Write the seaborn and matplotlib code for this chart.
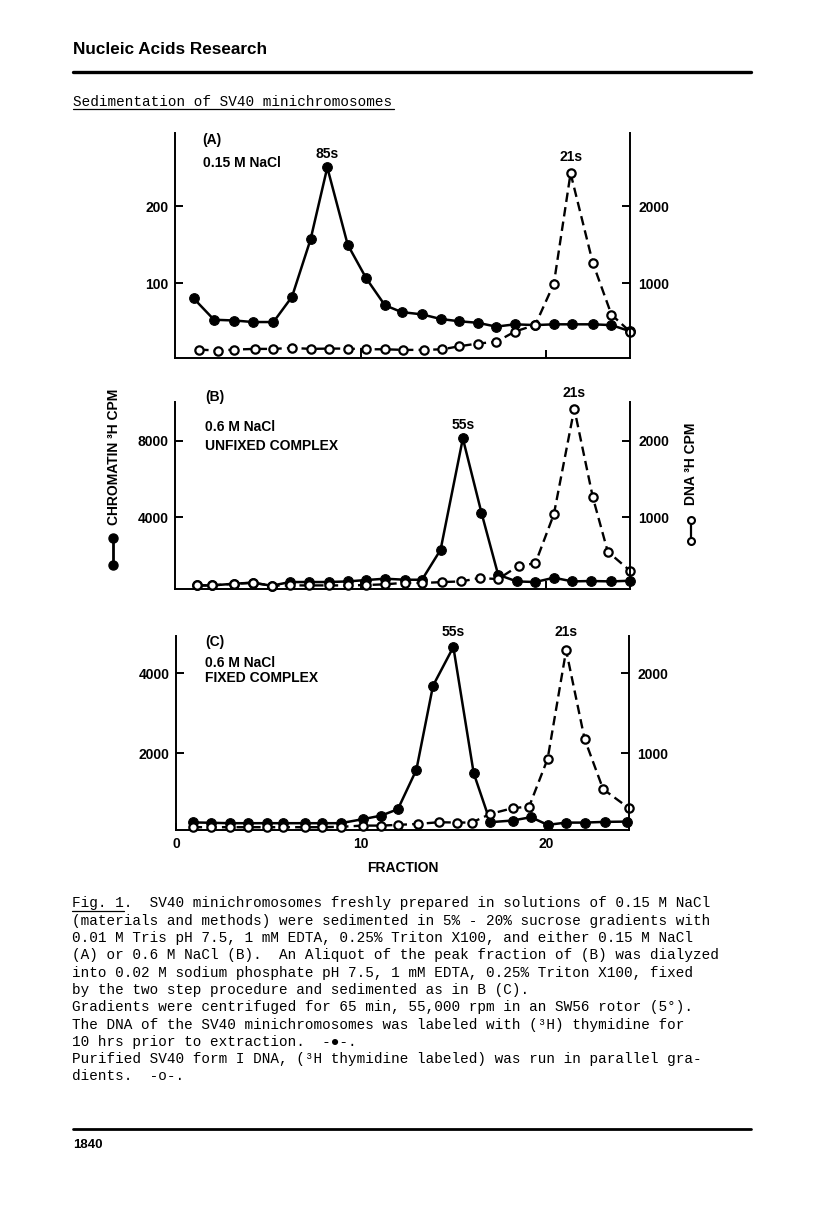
import matplotlib
matplotlib.use('Agg')
import matplotlib.pyplot as plt
from matplotlib.lines import Line2D
import numpy as np
import seaborn as sns

# ---- data (fraction number vs CPM) ----
# panel A: 0.15 M NaCl
a_frac_chrom = [1.0, 2.1, 3.2, 4.2, 5.3, 6.3, 7.3, 8.2, 9.3, 10.3, 11.3, 12.2,
                13.3, 14.3, 15.3, 16.3, 17.3, 18.3, 19.4, 20.4, 21.4, 22.5, 23.5, 24.5]
a_chrom = [80, 52, 51, 49, 49, 82, 157, 251, 150, 106, 71, 62,
           59, 53, 50, 48, 43, 46, 45, 46, 46, 46, 45, 37]
a_frac_dna = [1.3, 2.3, 3.2, 4.3, 5.3, 6.3, 7.3, 8.3, 9.3, 10.3, 11.3, 12.3,
              13.4, 14.4, 15.3, 16.3, 17.3, 18.3, 19.4, 20.4, 21.3, 22.5, 23.5, 24.5]
a_dna = [130, 117, 130, 139, 139, 152, 139, 143, 143, 134, 134, 126,
         126, 134, 173, 209, 231, 365, 452, 991, 2434, 1261, 587, 365]

# panel B: 0.6 M NaCl, unfixed
b_frac_chrom = [1.2, 2.0, 3.2, 4.2, 5.2, 6.2, 7.2, 8.3, 9.3, 10.3, 11.3, 12.4,
                13.3, 14.3, 15.5, 16.5, 17.4, 18.4, 19.4, 20.4, 21.4, 22.4, 23.5, 24.5]
b_chrom = [433, 433, 522, 574, 417, 610, 610, 610, 642, 715, 783, 730,
           730, 2295, 8123, 4241, 991, 642, 610, 835, 642, 663, 642, 678]
b_frac_dna = [1.2, 2.0, 3.2, 4.2, 5.2, 6.2, 7.2, 8.3, 9.3, 10.3, 11.3, 12.4,
              13.3, 14.4, 15.4, 16.4, 17.4, 18.5, 19.4, 20.4, 21.5, 22.5, 23.3, 24.5]
b_dna = [108, 108, 130, 143, 104, 108, 108, 108, 108, 113, 122, 143,
         139, 152, 160, 204, 191, 365, 396, 1039, 2420, 1260, 551, 300]

# panel C: 0.6 M NaCl, fixed
c_frac_chrom = [0.9, 1.9, 2.9, 3.9, 4.9, 5.8, 7.0, 7.9, 8.9, 10.1, 11.1, 12.0,
                13.0, 13.9, 15.0, 16.1, 17.0, 18.2, 19.2, 20.1, 21.1, 22.1, 23.2, 24.4]
c_chrom = [270, 260, 250, 250, 250, 250, 250, 250, 250, 350, 440, 600,
           1583, 3683, 4650, 1500, 275, 317, 400, 208, 265, 265, 283, 290]
c_frac_dna = [0.9, 1.9, 2.9, 3.9, 4.9, 5.8, 7.0, 7.9, 8.9, 10.1, 11.1, 12.0,
              13.1, 14.2, 15.2, 16.0, 17.0, 18.2, 19.1, 20.1, 21.1, 22.1, 23.1, 24.5]
c_dna = [75, 75, 75, 75, 75, 75, 75, 75, 80, 95, 95, 104,
         116, 137, 133, 133, 241, 312, 333, 929, 2283, 1175, 550, 312]

caption = [
    "Fig. 1.  SV40 minichromosomes freshly prepared in solutions of 0.15 M NaCl",
    "(materials and methods) were sedimented in 5% - 20% sucrose gradients with",
    "0.01 M Tris pH 7.5, 1 mM EDTA, 0.25% Triton X100, and either 0.15 M NaCl",
    "(A) or 0.6 M NaCl (B).  An Aliquot of the peak fraction of (B) was dialyzed",
    "into 0.02 M sodium phosphate pH 7.5, 1 mM EDTA, 0.25% Triton X100, fixed",
    "by the two step procedure and sedimented as in B (C).",
    "Gradients were centrifuged for 65 min, 55,000 rpm in an SW56 rotor (5°).",
    "The DNA of the SV40 minichromosomes was labeled with (³H) thymidine for",
    "10 hrs prior to extraction.  -●-.",
    "Purified SV40 form I DNA, (³H thymidine labeled) was run in parallel gra-",
    "dients.  -o-.",
]

sns.set_style("white")
plt.rcParams['font.family'] = ['Liberation Sans', 'DejaVu Sans']
plt.rcParams['font.weight'] = 'bold'
plt.rcParams['font.size'] = 10
plt.rcParams['text.color'] = 'black'
plt.rcParams['xtick.color'] = 'black'
plt.rcParams['ytick.color'] = 'black'
plt.rcParams['axes.edgecolor'] = 'black'
plt.rcParams['axes.linewidth'] = 1.4

W, H = 816, 1215
fig = plt.figure(figsize=(W / 100, H / 100), dpi=100)
fig.patch.set_facecolor('white')
MONO = ['Liberation Mono', 'DejaVu Sans Mono']


def fx(px):
    return px / W


def fy(py):
    return 1 - py / H


def panel(left, top, right, bottom, fr_c, chrom, fr_d, dna, ylim_l, ylim_r,
          lticks, rticks, labels, peak_c, peak_d, xlabels=False):
    ax = fig.add_axes([fx(left), fy(bottom), (right - left) / W, (bottom - top) / H])
    sns.lineplot(x=fr_c, y=chrom, ax=ax, color='black', linewidth=1.8,
                 marker='o', markersize=7, markerfacecolor='black',
                 markeredgecolor='black', clip_on=False)
    ax2 = ax.twinx()
    sns.lineplot(x=fr_d, y=dna, ax=ax2, color='black', linewidth=1.7,
                 linestyle=(0, (4.0, 2.2)), marker='o', markersize=6,
                 markerfacecolor='white', markeredgecolor='black',
                 markeredgewidth=1.6, clip_on=False)
    for a in (ax, ax2):
        a.set_xlim(0, 24.5)
        a.spines['top'].set_visible(False)
        a.set_xlabel('')
        a.set_ylabel('')
    ax.spines['right'].set_visible(False)
    ax2.spines['left'].set_visible(False)
    ax2.spines['bottom'].set_visible(False)
    ax.set_ylim(*ylim_l)
    ax2.set_ylim(*ylim_r)
    ax.set_yticks(lticks)
    ax2.set_yticks(rticks)
    ax.tick_params(axis='y', left=True, direction='in', length=6, width=1.4,
                   pad=4.5, labelsize=10)
    ax2.tick_params(axis='y', right=True, direction='in', length=6, width=1.4,
                    pad=6, labelsize=10)
    if xlabels:
        ax.set_xticks([0, 10, 20])
        ax.tick_params(axis='x', bottom=True, direction='in', length=5,
                       width=1.4, pad=5, labelsize=10)
    else:
        ax.set_xticks([10, 20])
        ax.set_xticklabels([])
        ax.tick_params(axis='x', bottom=True, direction='in', length=6, width=1.4)
    for (x, y, s) in labels:
        ax.text(x, y, s, transform=ax.transAxes, ha='left', va='center', fontsize=10)
    # peak labels placed from the data maxima
    s, off = peak_c
    i = int(np.argmax(chrom))
    ax.annotate(s, xy=(fr_c[i], chrom[i]), xytext=(0, off), textcoords='offset points',
                ha='center', va='center', fontsize=10, annotation_clip=False)
    s, off = peak_d
    i = int(np.argmax(dna))
    ax2.annotate(s, xy=(fr_d[i], dna[i]), xytext=(0, off), textcoords='offset points',
                 ha='center', va='center', fontsize=10, annotation_clip=False)
    return ax


panel(175, 133, 630, 358, a_frac_chrom, a_chrom, a_frac_dna, a_dna,
      (2, 296), (20, 2960), [100, 200], [1000, 2000],
      [(0.059, 0.969, '(A)'), (0.062, 0.868, '0.15 M NaCl')],
      ('85s', 10), ('21s', 11.5))
panel(175, 402, 630, 589, b_frac_chrom, b_chrom, b_frac_dna, b_dna,
      (245, 10030), (61, 2508), [4000, 8000], [1000, 2000],
      [(0.066, 1.028, '(B)'), (0.066, 0.868, '0.6 M NaCl'),
       (0.066, 0.766, 'UNFIXED COMPLEX')],
      ('55s', 10), ('21s', 11))
panel(176, 636, 629, 830, c_frac_chrom, c_chrom, c_frac_dna, c_dna,
      (80, 4925), (40, 2462), [2000, 4000], [1000, 2000],
      [(0.064, 0.971, '(C)'), (0.064, 0.862, '0.6 M NaCl'),
       (0.064, 0.784, 'FIXED COMPLEX')],
      ('55s', 10.5), ('21s', 13), xlabels=True)

fig.text(fx(403), fy(868), 'FRACTION', ha='center', va='center', fontsize=10)

# axis titles with their series keys
fig.text(fx(114), fy(457), 'CHROMATIN ³H CPM', rotation=90, ha='center', va='center', fontsize=10)
fig.add_artist(Line2D([fx(113), fx(113)], [fy(538), fy(565)], color='black', lw=2,
                      marker='o', ms=6.5, mfc='black', mec='black'))
fig.text(fx(691), fy(464), 'DNA ³H CPM', rotation=90, ha='center', va='center', fontsize=10)
fig.add_artist(Line2D([fx(691), fx(691)], [fy(520), fy(541)], color='black', lw=1.6,
                      marker='o', ms=5, mfc='white', mec='black', mew=1.5))

# page header / title
fig.text(fx(73), fy(49), 'Nucleic Acids Research', ha='left', va='center', fontsize=12.3)
fig.add_artist(Line2D([fx(73), fx(751)], [fy(71.7), fy(71.7)], color='black', lw=2.4))
fig.text(fx(73), fy(105.5), 'Sedimentation of SV40 minichromosomes', ha='left',
         va='baseline', fontsize=10.4, family=MONO, fontweight='normal')
fig.add_artist(Line2D([fx(73), fx(394)], [fy(109), fy(109)], color='black', lw=0.9))

# caption
for k, line in enumerate(caption):
    fig.text(fx(72), fy(907.5 + 17.3 * k), line, ha='left', va='baseline',
             fontsize=10.4, family=MONO, fontweight='normal')
fig.add_artist(Line2D([fx(72), fx(124)], [fy(911), fy(911)], color='black', lw=0.9))

# footer
fig.add_artist(Line2D([fx(73), fx(751)], [fy(1129.3), fy(1129.3)], color='black', lw=2))
fig.text(fx(73), fy(1145), '1840', ha='left', va='center', fontsize=9.5)

fig.savefig('out.png', dpi=100, facecolor='white')
